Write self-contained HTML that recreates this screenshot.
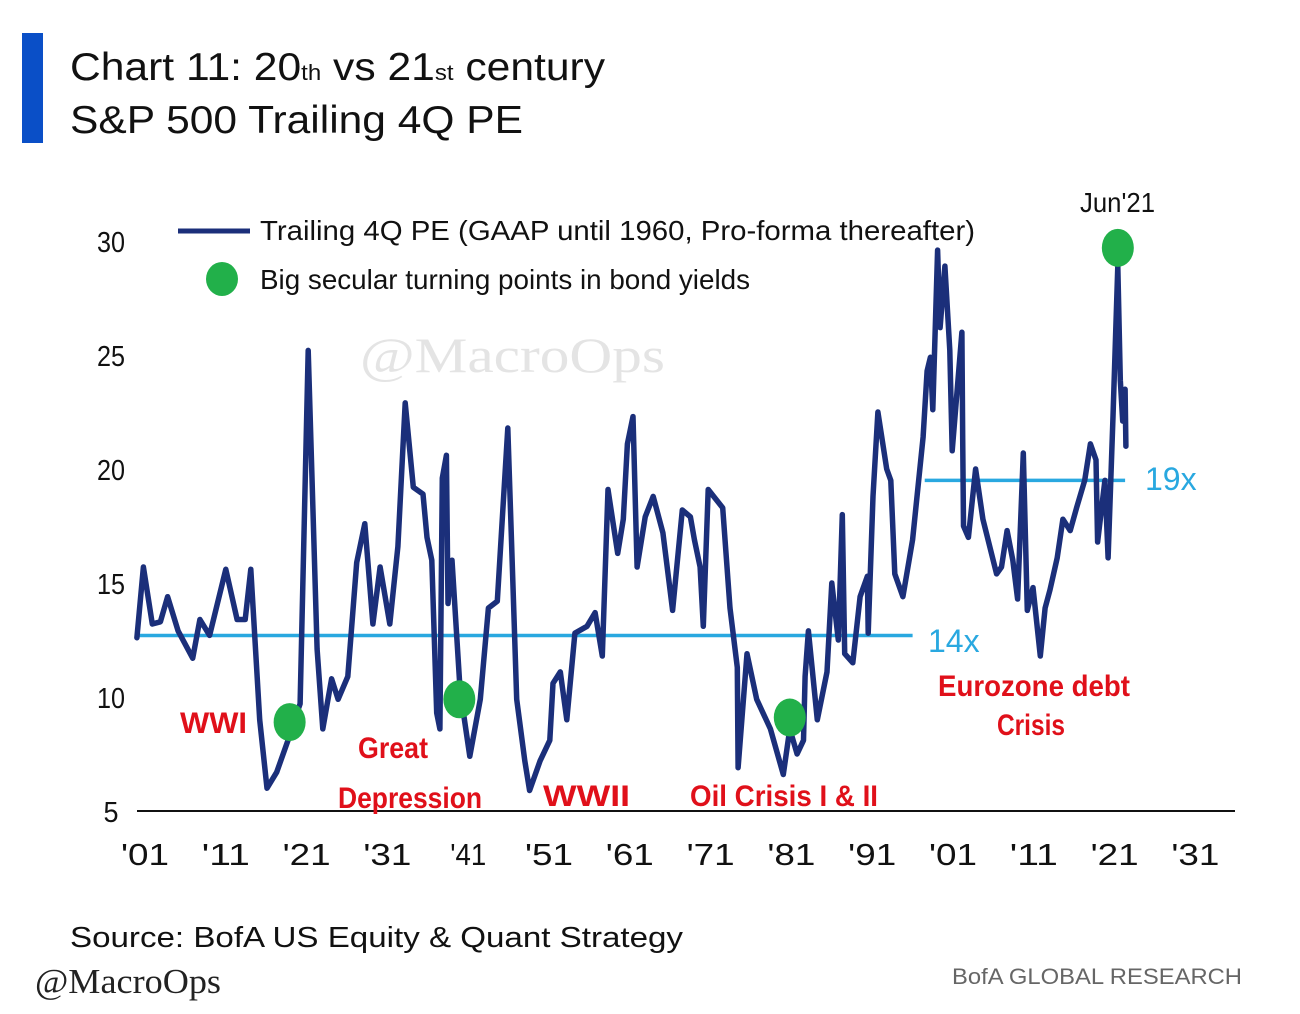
<!DOCTYPE html>
<html><head><meta charset="utf-8"><style>
html,body{margin:0;padding:0;background:#fff;width:1300px;height:1014px;overflow:hidden}
svg{display:block}
</style></head><body>
<svg id="chart" width="1300" height="1014" viewBox="0 0 1300 1014" xmlns="http://www.w3.org/2000/svg" font-family="Liberation Sans, Arial, sans-serif">
<rect x="22" y="33" width="21" height="110" fill="#0a4fc7"/>
<text x="70" y="80" font-size="39" fill="#111" textLength="535" lengthAdjust="spacingAndGlyphs">Chart 11: 20<tspan font-size="22">th</tspan> vs 21<tspan font-size="22">st</tspan> century</text>
<text x="70" y="133" font-size="39" fill="#111" textLength="453" lengthAdjust="spacingAndGlyphs">S&amp;P 500 Trailing 4Q PE</text>
<text x="360" y="372" font-size="50" font-family="Liberation Serif, serif" fill="#e4e4e4" textLength="305" lengthAdjust="spacingAndGlyphs">@MacroOps</text>
<g id="plot"></g>
<line x1="178" y1="231" x2="250" y2="231" stroke="#1b2f7a" stroke-width="5"/>
<text x="260" y="240" font-size="28" textLength="715" lengthAdjust="spacingAndGlyphs" fill="#111">Trailing 4Q PE (GAAP until 1960, Pro-forma thereafter)</text>
<ellipse cx="222" cy="279" rx="16" ry="17" fill="#22b04a"/>
<text x="260" y="289" font-size="28" textLength="490" lengthAdjust="spacingAndGlyphs" fill="#111">Big secular turning points in bond yields</text>
<text x="1080" y="212" font-size="28" textLength="75" lengthAdjust="spacingAndGlyphs" fill="#111">Jun'21</text>
<g font-weight="bold" fill="#e0101a" font-size="30">
<text x="180" y="733" textLength="67" lengthAdjust="spacingAndGlyphs">WWI</text>
<text x="358" y="758" textLength="70" lengthAdjust="spacingAndGlyphs">Great</text>
<text x="338" y="808" textLength="144" lengthAdjust="spacingAndGlyphs">Depression</text>
<text x="543" y="806" textLength="87" lengthAdjust="spacingAndGlyphs">WWII</text>
<text x="690" y="806" textLength="188" lengthAdjust="spacingAndGlyphs">Oil Crisis I &amp; II</text>
<text x="938" y="696" textLength="192" lengthAdjust="spacingAndGlyphs">Eurozone debt</text>
<text x="997" y="735" textLength="68" lengthAdjust="spacingAndGlyphs">Crisis</text>
</g>
<text x="928" y="652" font-size="32" fill="#29a8e0">14x</text>
<text x="1145" y="490" font-size="32" fill="#29a8e0">19x</text>
<text x="70" y="947" font-size="29" fill="#111" textLength="613" lengthAdjust="spacingAndGlyphs">Source: BofA US Equity &amp; Quant Strategy</text>
<text x="35" y="993" font-size="35" font-family="Liberation Serif, serif" fill="#222" textLength="186" lengthAdjust="spacingAndGlyphs">@MacroOps</text>
<text x="952" y="984" font-size="22" fill="#666" textLength="290" lengthAdjust="spacingAndGlyphs">BofA GLOBAL RESEARCH</text>
</svg>
<script>
const years=[1900.0,1900.8,1901.9,1902.9,1903.8,1905.1,1906.9,1907.8,1909.0,1911.0,1912.4,1913.4,1914.1,1915.2,1916.1,1917.3,1918.7,1919.5,1920.2,1921.2,1922.3,1923.0,1924.1,1924.9,1926.1,1927.2,1928.2,1929.2,1930.1,1931.3,1932.3,1933.2,1934.2,1935.4,1935.9,1936.5,1937.1,1937.5,1937.8,1938.3,1938.5,1939.0,1940.0,1941.2,1942.5,1943.5,1944.6,1945.9,1947.0,1948.0,1948.6,1949.9,1951.1,1951.5,1952.4,1953.2,1954.2,1955.7,1956.7,1957.6,1958.3,1959.5,1960.2,1960.7,1961.4,1961.9,1962.9,1963.9,1965.1,1966.3,1967.5,1968.5,1969.0,1969.7,1970.1,1970.7,1972.5,1973.4,1974.3,1974.4,1975.5,1976.7,1978.4,1980.0,1980.8,1981.7,1982.5,1982.7,1983.1,1984.2,1985.4,1986.0,1986.8,1987.3,1987.6,1988.6,1989.5,1990.4,1990.5,1991.1,1991.7,1992.8,1993.3,1993.8,1994.8,1996.0,1997.3,1997.8,1998.2,1998.5,1999.1,1999.4,2000.0,2000.6,2000.9,2002.1,2002.2,2002.3,2002.9,2003.8,2004.7,2006.4,2007.0,2007.7,2008.4,2009.0,2009.7,2010.2,2010.9,2011.8,2012.4,2013.0,2013.9,2014.6,2015.5,2016.3,2017.3,2018.0,2018.7,2018.9,2019.8,2020.2,2020.8,2021.4,2021.7,2022.0,2022.3,2022.4];
const pe=[12.6,15.7,13.2,13.3,14.4,12.9,11.7,13.4,12.7,15.6,13.4,13.4,15.6,9.0,6.0,6.7,8.1,9.0,9.7,25.2,12.1,8.6,10.8,9.9,10.9,15.9,17.6,13.2,15.7,13.2,16.6,22.9,19.2,18.9,17.0,16.0,9.3,8.6,19.6,20.6,14.1,16.0,10.3,7.4,9.9,13.9,14.2,21.8,9.9,7.2,5.9,7.2,8.1,10.6,11.1,9.0,12.8,13.1,13.7,11.8,19.1,16.3,17.8,21.1,22.3,15.7,17.9,18.8,17.2,13.8,18.2,17.9,16.9,15.7,13.1,19.1,18.3,13.9,11.3,6.9,11.9,9.9,8.6,6.6,8.6,7.5,8.1,10.9,12.9,9.0,11.1,15.0,12.5,18.0,11.9,11.5,14.4,15.3,12.8,18.8,22.5,20.0,19.5,15.4,14.4,16.9,21.4,24.3,24.9,22.6,29.6,26.2,28.9,25.2,20.8,26.0,21.3,17.5,17.0,20.0,17.8,15.4,15.7,17.3,16.0,14.3,20.7,13.8,14.8,11.8,13.9,14.7,16.1,17.8,17.3,18.3,19.5,21.1,20.4,16.8,19.5,16.1,22.3,28.9,23.9,22.1,23.5,21.0];
const dotYears=[1918.9,1939.9,1980.8,2021.4];
const dotPe=[8.9,9.9,9.1,29.7];
const yTicks=[5,10,15,20,25,30];
const xTickYears=[1901,1911,1921,1931,1941,1951,1961,1971,1981,1991,2001,2011,2021,2031];
const xTickLabels=["'01","'11","'21","'31","'41","'51","'61","'71","'81","'91","'01","'11","'21","'31"];
const refStart=[1900,1997.5];
const refEnd=[1996,2022.3];
const refLevel=[12.7,19.5];

const xS=y=>145+(y-1901)*8.08;
const yS=v=>811-(v-5)*22.8;
const NS='http://www.w3.org/2000/svg';
const g=document.getElementById('plot');
function mk(tag,attrs){const e=document.createElementNS(NS,tag);for(const k in attrs)e.setAttribute(k,attrs[k]);g.appendChild(e);return e;}

const base=mk('line',{x1:137,y1:811,x2:1235,y2:811,stroke:'#111','stroke-width':2});



yTicks.forEach(v=>{
  const t=mk('text',{x:111,y:yS(v)+11,'font-size':29,'text-anchor':'middle',fill:'#111',textLength:v<10?15:28,lengthAdjust:'spacingAndGlyphs'});
  t.textContent=v;
  
  
});
xTickYears.forEach((yr,i)=>{
  const t=mk('text',{x:xS(yr),y:865,'font-size':31,'text-anchor':'middle',fill:'#111',textLength:i==4?36:48,lengthAdjust:'spacingAndGlyphs'});
  t.textContent=xTickLabels[i];
  
  
});
refLevel.forEach((lv,i)=>{
  const l=mk('line',{x1:xS(refStart[i]),x2:xS(refEnd[i]),y1:yS(lv),y2:yS(lv),stroke:'#29a8e0','stroke-width':3.5});
  
  
});
const pts=years.map((yr,i)=>xS(yr).toFixed(1)+','+yS(pe[i]).toFixed(1)).join(' ');
const pl=mk('polyline',{points:pts,fill:'none',stroke:'#1b2f7a','stroke-width':5.5,'stroke-linejoin':'round','stroke-linecap':'round'});


dotYears.forEach((yr,i)=>{
  const d=mk('ellipse',{cx:xS(yr),cy:yS(dotPe[i]),rx:16,ry:19,fill:'#22b04a'});
  
  
});
</script>
</body></html>
